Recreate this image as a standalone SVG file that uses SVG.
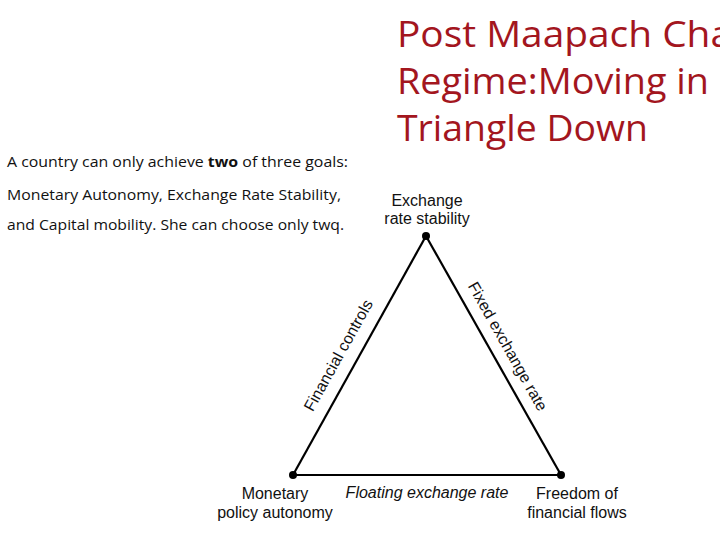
<svg xmlns="http://www.w3.org/2000/svg" width="720" height="540" viewBox="0 0 720 540">
<style>
.title{font-family:"Open Sans","Noto Sans",sans-serif;font-size:37px;fill:#a3161e}
.body{font-family:"Open Sans","Noto Sans",sans-serif;font-size:14px;fill:#111}
.lbl{font-family:"Liberation Sans",Arial,sans-serif;font-size:16px;fill:#111;text-anchor:middle}
.edge{stroke:#000;stroke-width:2.2;fill:none}
</style>
<rect width="720" height="540" fill="#fff"/>
<g id="title">
<text class="title" x="397" y="47" textLength="335" lengthAdjust="spacingAndGlyphs">Post Maapach Cha</text>
<text class="title" x="397" y="94" textLength="312" lengthAdjust="spacingAndGlyphs">Regime:Moving in</text>
<text class="title" x="397" y="141" textLength="251" lengthAdjust="spacingAndGlyphs">Triangle Down</text>
</g>
<g id="description">
<text class="body" x="7" y="167" textLength="341" lengthAdjust="spacingAndGlyphs">A country can only achieve <tspan font-weight="bold">two</tspan> of three goals:</text>
<text class="body" x="7" y="200" textLength="334" lengthAdjust="spacingAndGlyphs">Monetary Autonomy, Exchange Rate Stability,</text>
<text class="body" x="7" y="230" textLength="337" lengthAdjust="spacingAndGlyphs">and Capital mobility. She can choose only twq.</text>
</g>
<g id="connectors">
<line class="edge" x1="426" y1="236" x2="293" y2="475"/>
<line class="edge" x1="426" y1="236" x2="561" y2="475"/>
<line class="edge" x1="293" y1="475" x2="561" y2="475"/>
<text class="lbl" transform="translate(343,358) rotate(-60.9)">Financial controls</text>
<text class="lbl" transform="translate(503,349) rotate(60.6)">Fixed exchange rate</text>
<text class="lbl" x="427" y="498" font-style="italic">Floating exchange rate</text>
</g>
<g id="node-exchange">
<circle cx="426" cy="236" r="4" fill="#000"/>
<text class="lbl" x="427" y="206">Exchange</text>
<text class="lbl" x="427" y="224">rate stability</text>
</g>
<g id="node-monetary">
<circle cx="293" cy="475" r="4" fill="#000"/>
<text class="lbl" x="275" y="499">Monetary</text>
<text class="lbl" x="275" y="518">policy autonomy</text>
</g>
<g id="node-freedom">
<circle cx="561" cy="475" r="4" fill="#000"/>
<text class="lbl" x="577" y="499">Freedom of</text>
<text class="lbl" x="577" y="518">financial flows</text>
</g>
</svg>
